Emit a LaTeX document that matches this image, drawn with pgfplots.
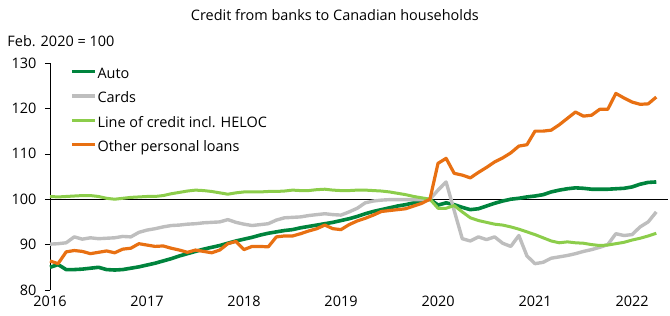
\documentclass[border=0pt]{standalone}
\usepackage{pgfplots}
\pgfplotsset{compat=1.18}
\usepackage{pgfplotstable}
\usepackage{fontspec}
\setmainfont{Open Sans}
\definecolor{cAuto}{RGB}{0,132,61}
\definecolor{cCards}{RGB}{190,190,190}
\definecolor{cLOC}{RGB}{140,205,75}
\definecolor{cOther}{RGB}{232,112,18}
\pgfplotstableread{
m auto cards loc other
0 85.0 90.1 100.6 86.4
1 85.6 90.2 100.5 85.8
2 84.5 90.4 100.6 88.4
3 84.5 91.7 100.7 88.7
4 84.6 91.2 100.8 88.5
5 84.8 91.5 100.8 88.0
6 85.0 91.3 100.6 88.3
7 84.5 91.4 100.2 88.6
8 84.4 91.5 100.0 88.2
9 84.5 91.8 100.2 89.0
10 84.8 91.7 100.4 89.2
11 85.1 92.7 100.5 90.2
12 85.5 93.2 100.6 89.9
13 85.9 93.5 100.6 89.6
14 86.4 93.9 100.8 89.7
15 86.9 94.2 101.2 89.2
16 87.5 94.3 101.5 88.8
17 88.0 94.5 101.8 88.3
18 88.5 94.6 102.0 88.8
19 89.0 94.8 101.9 88.5
20 89.4 94.9 101.7 88.2
21 89.8 95.0 101.4 88.8
22 90.3 95.5 101.1 90.2
23 90.8 94.9 101.4 90.7
24 91.2 94.5 101.6 88.9
25 91.6 94.2 101.6 89.6
26 92.1 94.4 101.6 89.6
27 92.5 94.6 101.7 89.5
28 92.8 95.4 101.7 91.7
29 93.1 95.9 101.8 91.9
30 93.3 96.0 102.0 91.9
31 93.7 96.1 101.9 92.4
32 94.0 96.4 101.9 93.0
33 94.3 96.6 102.1 93.5
34 94.6 96.8 102.2 94.3
35 94.9 96.6 102.0 93.5
36 95.3 96.5 101.9 93.3
37 95.7 97.2 101.9 94.4
38 96.2 98.0 102.0 95.2
39 96.8 99.2 102.0 95.8
40 97.3 99.6 101.9 96.5
41 97.7 99.8 101.8 97.3
42 98.1 99.9 101.6 97.5
43 98.5 99.9 101.3 97.7
44 98.8 99.9 101.0 97.9
45 99.2 99.9 100.6 98.5
46 99.6 99.9 100.3 99.1
47 100.0 100.0 100.0 100.0
48 98.7 102.0 98.0 107.9
49 99.2 103.8 98.0 109.0
50 98.8 97.5 98.6 105.7
51 98.2 91.3 97.2 105.3
52 97.7 90.8 95.9 104.7
53 97.9 91.7 95.3 105.9
54 98.5 91.1 94.9 107.0
55 99.1 91.7 94.5 108.2
56 99.6 90.3 94.3 109.1
57 100.0 89.6 93.9 110.2
58 100.2 92.0 93.4 111.7
59 100.5 87.5 92.8 112.0
60 100.7 85.8 92.2 115.0
61 101.0 86.1 91.5 115.0
62 101.6 87.0 90.8 115.2
63 102.0 87.3 90.4 116.4
64 102.3 87.6 90.6 117.8
65 102.5 88.0 90.4 119.2
66 102.4 88.5 90.3 118.3
67 102.2 88.9 90.0 118.5
68 102.2 89.4 89.8 119.8
69 102.2 90.0 89.9 119.8
70 102.3 92.4 90.2 123.3
71 102.4 92.0 90.5 122.3
72 102.7 92.2 91.0 121.4
73 103.3 93.9 91.4 120.9
74 103.7 95.0 91.9 121.0
75 103.8 97.2 92.5 122.5
}\datatable
\begin{document}
\begin{tikzpicture}
\path[use as bounding box] (-50bp,-26bp) rectangle (620bp,290bp);
\begin{axis}[
  at={(0,0)}, anchor=south west,
  scale only axis,
  width=618bp, height=227bp,
  xmin=0, xmax=76.45,
  ymin=80, ymax=130,
  axis lines*=left,
  x axis line style={draw=none},
  xtick={0,12,24,36,48,60,72},
  xticklabels={2016,2017,2018,2019,2020,2021,2022},
  xtick style={draw=none},
  ytick={80,90,100,110,120,130},
  tick align=outside,
  major tick length=5bp,
  ytick style={black, line width=0.6pt},
  axis line style={black, line width=0.6pt},
  /pgf/number format/assume math mode=true,
  tick label style={font=\fontsize{14.5}{17}\selectfont, text=black},
  yticklabel style={xshift=-5bp},
  xticklabel style={yshift=2bp},
  clip=false,
  legend style={draw=none, fill=none, at={(rel axis cs:0.032,0.985)}, anchor=north west,
    font=\fontsize{14.5}{17}\selectfont, row sep=9bp, inner xsep=0pt, inner ysep=0pt,
    nodes={inner xsep=1bp, inner ysep=1bp, text height=10.5bp, text depth=3bp, text=black}},
  legend cell align=left,
  legend image code/.code={\draw[#1] (0bp,3bp) -- (23bp,3bp);},
]
\draw[black, line width=0.6pt] (axis cs:0,100) -- (axis cs:76.45,100);
\addplot[cAuto, line width=3.6bp, line join=round] table[x=m, y=auto] {\datatable};
\addlegendentry{Auto}
\addplot[cCards, line width=3.4bp, line join=round] table[x=m, y=cards] {\datatable};
\addlegendentry{Cards}
\addplot[cLOC, line width=3.0bp, line join=round] table[x=m, y=loc] {\datatable};
\addlegendentry{Line of credit incl. HELOC}
\addplot[cOther, line width=3.2bp, line join=round] table[x=m, y=other] {\datatable};
\addlegendentry{Other personal loans}
\node[font=\fontsize{14.5}{17}\selectfont, text=black] at (rel axis cs:0.461,1.211) {Credit from banks to Canadian households};
\node[font=\fontsize{14.5}{17}\selectfont, text=black, anchor=west] at (rel axis cs:-0.0745,1.097) {Feb. 2020 = 100};
\end{axis}
\end{tikzpicture}
\end{document}
